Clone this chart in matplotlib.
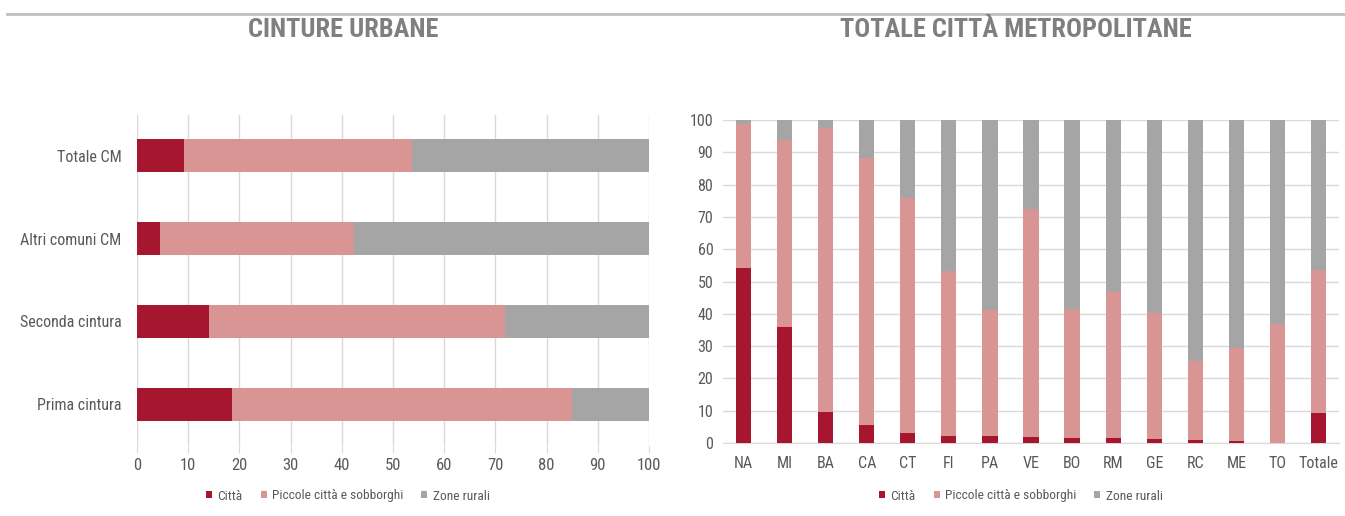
import numpy as np
import matplotlib
matplotlib.use("Agg")
import matplotlib.pyplot as plt
from matplotlib.lines import Line2D
from matplotlib.patches import Patch

plt.rcParams['font.family'] = ['Liberation Sans Narrow', 'Roboto Condensed', 'DejaVu Sans']

# dati: cinture urbane
cinture = ['Prima cintura', 'Seconda cintura', 'Altri comuni CM', 'Totale CM']
cint_citta = [18.6, 14.0, 4.5, 9.1]
cint_piccole = [66.3, 57.9, 37.8, 44.6]
cint_rurali = [15.1, 28.1, 57.7, 46.3]

# dati: totale città metropolitane
cm = ['NA', 'MI', 'BA', 'CA', 'CT', 'FI', 'PA', 'VE', 'BO', 'RM', 'GE', 'RC', 'ME', 'TO', 'Totale']
cm_citta = [54.2, 35.9, 9.6, 5.7, 3.2, 2.3, 2.3, 2.0, 1.6, 1.4, 1.1, 0.8, 0.5, 0.0, 9.2]
cm_piccole = [44.6, 57.9, 87.9, 82.4, 72.5, 51.0, 38.9, 70.6, 39.9, 45.5, 39.0, 24.6, 28.9, 36.7, 44.5]
cm_rurali = [1.2, 6.2, 2.5, 11.9, 24.3, 46.7, 58.8, 27.4, 58.5, 53.1, 59.9, 74.6, 70.6, 63.3, 46.3]

serie = ['Città', 'Piccole città e sobborghi', 'Zone rurali']
colori = ['#A6172F', '#D99594', '#A5A5A5']
grigio_testo = '#595959'
grigio_griglia = '#D9D9D9'

W, H = 1345, 516
fig = plt.figure(figsize=(W / 100, H / 100), dpi=100)


def box(x0, x1, ytop, ybot):
    return [x0 / W, 1 - ybot / H, (x1 - x0) / W, (ybot - ytop) / H]


# linea grigia in alto
fig.add_artist(Line2D([7 / W, 1], [1 - 14 / H, 1 - 14 / H], color='#BFBFBF', lw=2))

titolo = dict(fontsize=19, fontweight='bold', color='#7F7F7F', ha='center', va='center')
fig.text(343 / W, 1 - 30 / H, 'CINTURE URBANE', **titolo)
fig.text(1016 / W, 1 - 30 / H, 'TOTALE CITTÀ METROPOLITANE', **titolo)

# --- barre orizzontali ---
ax1 = fig.add_axes(box(137, 649, 114.5, 445.5))
y = np.arange(len(cinture))
left = np.zeros(len(cinture))
for vals, col, lab in zip([cint_citta, cint_piccole, cint_rurali], colori, serie):
    ax1.barh(y, vals, left=left, height=0.4, color=col, label=lab, zorder=3)
    left += np.array(vals)
ax1.set_xlim(0, 100)
ax1.set_ylim(-0.5, len(cinture) - 0.5)
ax1.set_xticks(range(0, 101, 10))
ax1.set_yticks(y)
ax1.set_yticklabels(cinture)
ax1.grid(axis='x', color=grigio_griglia, lw=1, zorder=0)
for s in ax1.spines.values():
    s.set_visible(False)
ax1.tick_params(axis='x', length=5, color=grigio_griglia, labelcolor=grigio_testo, labelsize=12, pad=4)
ax1.tick_params(axis='y', length=0, labelcolor=grigio_testo, labelsize=11.5, pad=11)

# --- barre verticali ---
ax2 = fig.add_axes(box(723, 1339, 120, 443))
x = np.arange(len(cm))
bottom = np.zeros(len(cm))
for vals, col, lab in zip([cm_citta, cm_piccole, cm_rurali], colori, serie):
    ax2.bar(x, vals, bottom=bottom, width=0.37, color=col, label=lab, zorder=3)
    bottom += np.array(vals)
ax2.set_ylim(0, 100)
ax2.set_xlim(-0.5, len(cm) - 0.5)
ax2.set_yticks(range(0, 101, 10))
ax2.set_xticks(x)
ax2.set_xticklabels(cm)
ax2.grid(axis='y', color=grigio_griglia, lw=1, zorder=0)
for s in ['top', 'right', 'left']:
    ax2.spines[s].set_visible(False)
ax2.spines['bottom'].set_color(grigio_griglia)
ax2.tick_params(axis='both', length=0, labelcolor=grigio_testo, labelsize=11.5)
ax2.tick_params(axis='y', pad=7)
ax2.tick_params(axis='x', pad=9)

# legende
handles = [Patch(facecolor=c, edgecolor='none') for c in colori]
leg_kw = dict(ncol=3, frameon=False, fontsize=9.6, handlelength=0.45, handleheight=0.45,
              handletextpad=0.4, columnspacing=1.35, labelcolor=grigio_testo, loc='center')
fig.legend(handles, serie, bbox_to_anchor=(348 / W, 1 - 496 / H), **leg_kw)
fig.legend(handles, serie, bbox_to_anchor=(1021 / W, 1 - 496 / H), **leg_kw)

fig.savefig('out.png', dpi=100, facecolor='white')
